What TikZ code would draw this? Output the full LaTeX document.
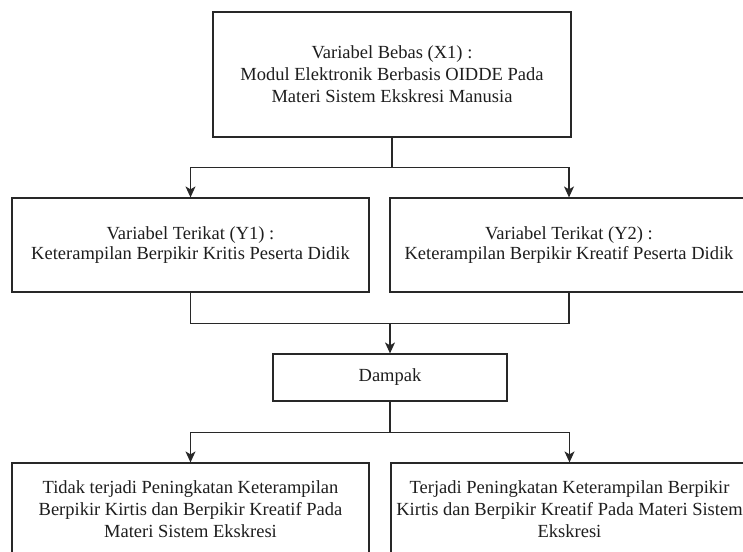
\documentclass[tikz,border=0pt]{standalone}
\usepackage{fontspec}
\setmainfont{Liberation Serif}
\usepackage{xcolor}
\usepackage{tikz}
\usetikzlibrary{arrows.meta,positioning,calc}
\definecolor{edge}{RGB}{40, 40, 40}
\definecolor{ink}{RGB}{30, 30, 30}

\begin{document}
\begin{tikzpicture}[
    x=1pt, y=-1pt,
    >={Stealth[length=11pt, width=10pt, inset=3pt]},
    varbox/.style={draw=edge, line width=1.2pt, fill=white, align=center, text=ink, inner sep=0pt, font=\fontsize{18.5}{22}\selectfont, minimum width=357pt},
    link/.style={draw=edge, line width=1.2pt},
    arrow/.style={->, draw=edge, line width=1.2pt}
]
    \useasboundingbox (0,0) rectangle (743,551);
    \clip (0,0) rectangle (743,551);

    % Independent variable
    \node[varbox, minimum width=358pt, minimum height=125pt] (bebas) at (392,74.5) {Variabel Bebas (X1) :\\Modul Elektronik Berbasis OIDDE Pada\\Materi Sistem Ekskresi Manusia};

    % Dependent variables
    \node[varbox, minimum height=94pt, font=\fontsize{18.5}{19.5}\selectfont] (terikat1) at (190.5,245) {Variabel Terikat (Y1) :\\Keterampilan Berpikir Kritis Peserta Didik};
    \node[varbox, minimum width=358pt, minimum height=94pt, font=\fontsize{18.5}{19.5}\selectfont] (terikat2) at (569,245) {Variabel Terikat (Y2) :\\Keterampilan Berpikir Kreatif Peserta Didik};

    % Impact
    \node[varbox, minimum width=234pt, minimum height=47pt] (dampak) at (390,377.5) {Dampak};

    % Outcomes
    \node[varbox, minimum height=93pt] (tidak) at (190.5,509.5) {Tidak terjadi Peningkatan Keterampilan\\Berpikir Kirtis dan Berpikir Kreatif Pada\\Materi Sistem Ekskresi};
    \node[varbox, minimum height=93pt] (terjadi) at (569.5,509.5) {Terjadi Peningkatan Keterampilan Berpikir\\Kirtis dan Berpikir Kreatif Pada Materi Sistem\\Ekskresi};

    % Split and join points
    \coordinate (split1) at ($(bebas.south)+(0,30)$);
    \coordinate (join) at ($(terikat1.south)+(0,31)$);
    \coordinate (split2) at ($(dampak.south)+(0,31)$);

    % Connectors
    \draw[link] (bebas.south) -- (split1);
    \draw[arrow] (split1) -| (terikat1.north);
    \draw[arrow] (split1) -| (terikat2.north);
    \draw[link] (terikat1.south) -- (join) -| (terikat2.south);
    \draw[arrow] (dampak.north |- join) -- (dampak.north);
    \draw[link] (dampak.south) -- (split2);
    \draw[arrow] (split2) -| (tidak.north);
    \draw[arrow] (split2) -| (terjadi.north);

\end{tikzpicture}
\end{document}
